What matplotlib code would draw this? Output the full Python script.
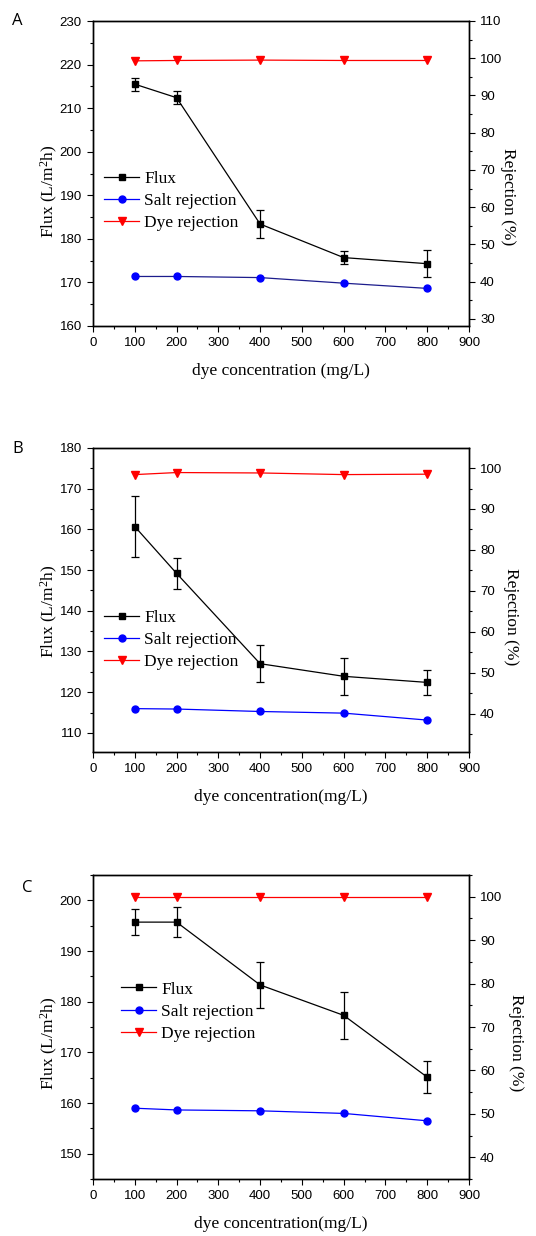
import numpy as np
import matplotlib.pyplot as plt
from matplotlib.lines import Line2D
from matplotlib.ticker import MultipleLocator

conc = [100, 200, 400, 600, 800]

# panel A
flux_a = [215.5, 212.4, 183.4, 175.7, 174.3]
flux_err_a = [1.5, 1.5, 3.2, 1.5, 3.1]
salt_a = [41.4, 41.4, 41.1, 39.6, 38.2]
dye_a = [99.3, 99.4, 99.5, 99.4, 99.4]

# panel B
flux_b = [160.7, 149.2, 127.0, 123.9, 122.4]
flux_err_b = [7.6, 3.8, 4.5, 4.6, 3.0]
salt_b = [41.2, 41.1, 40.5, 40.1, 38.4]
dye_b = [98.4, 98.9, 98.8, 98.4, 98.5]

# panel C
flux_c = [195.7, 195.7, 183.3, 177.3, 165.1]
flux_err_c = [2.5, 2.9, 4.6, 4.6, 3.1]
salt_c = [51.3, 50.9, 50.7, 50.1, 48.4]
dye_c = [99.9, 99.9, 99.9, 99.9, 99.9]

SANS = 'Liberation Sans'
SERIF = 'Liberation Serif'

plt.rcParams['mathtext.fontset'] = 'custom'
plt.rcParams['mathtext.rm'] = SERIF
plt.rcParams['mathtext.it'] = SERIF + ':italic'

W, H = 536, 1236
fig = plt.figure(figsize=(W / 100, H / 100), dpi=100)


def panel(top, bottom, letter, letter_xy, flux, err, salt, dye, ylim_l, ylim_r,
          xlabel, leg_x, leg_y, ly, rx, ry, salt_line='blue'):
    ax = fig.add_axes([93 / W, 1 - bottom / H, 376 / W, (bottom - top) / H])
    ax2 = ax.twinx()

    ax.errorbar(conc, flux, yerr=err, color='black', marker='s', ms=5,
                lw=0.9, elinewidth=0.9, capsize=3, capthick=0.9)
    ax2.plot(conc, salt, color=salt_line, marker='o', ms=5, mfc='blue',
             mec='blue', lw=0.9)
    ax2.plot(conc, dye, color='red', marker='v', ms=6, lw=0.9)

    ax.set_xlim(0, 900)
    ax.set_ylim(*ylim_l)
    ax2.set_ylim(*ylim_r)
    ax.xaxis.set_major_locator(MultipleLocator(100))
    ax.xaxis.set_minor_locator(MultipleLocator(50))
    ax.yaxis.set_major_locator(MultipleLocator(10))
    ax.yaxis.set_minor_locator(MultipleLocator(5))
    ax2.yaxis.set_major_locator(MultipleLocator(10))
    ax2.yaxis.set_minor_locator(MultipleLocator(5))

    for a in (ax, ax2):
        a.tick_params(which='major', direction='out', length=4, width=0.8,
                      labelsize=9.5, pad=4)
        a.tick_params(which='minor', direction='out', length=2.5, width=0.8)
        for lab in a.get_xticklabels() + a.get_yticklabels():
            lab.set_family(SANS)
        for s in a.spines.values():
            s.set_linewidth(1.0)

    ax.set_ylabel('Flux (L/m$^2$h)', family=SERIF, fontsize=12.5)
    ax.yaxis.set_label_coords(-0.088, ly)
    ax2.set_ylabel('Rejection (%)', family=SERIF, fontsize=12.5, rotation=270,
                   va='bottom')
    ax2.yaxis.set_label_coords(rx, ry)
    ax.set_xlabel(xlabel, family=SERIF, fontsize=12.5, labelpad=10)

    handles = [
        Line2D([], [], color='black', marker='s', ms=5, lw=0.9),
        Line2D([], [], color='blue', marker='o', ms=5, lw=0.9),
        Line2D([], [], color='red', marker='v', ms=6, lw=0.9),
    ]
    ax.legend(handles, ['Flux', 'Salt rejection', 'Dye rejection'],
              loc='upper left', bbox_to_anchor=(leg_x, leg_y), frameon=False,
              prop={'family': SERIF, 'size': 12.5}, handlelength=2.0,
              handletextpad=0.3, labelspacing=0.36, borderpad=0, borderaxespad=0)

    fig.text(letter_xy[0] / W, 1 - letter_xy[1] / H, letter, family='Open Sans',
             fontsize=12, ha='left', va='center')


panel(21, 326, 'A', (12, 21), flux_a, flux_err_a, salt_a, dye_a,
      (160, 230), (28.1, 110), 'dye concentration (mg/L)', 0.03, 0.51,
      0.443, 1.082, 0.423, salt_line='#1c1c8c')
panel(448, 752, 'B', (12, 449), flux_b, flux_err_b, salt_b, dye_b,
      (105.3, 180), (30.6, 104.9), 'dye concentration(mg/L)', 0.03, 0.469,
      0.464, 1.09, 0.444)
panel(875, 1179, 'C', (22, 888), flux_c, flux_err_c, salt_c, dye_c,
      (145, 205), (35, 105), 'dye concentration(mg/L)', 0.075, 0.65,
      0.447, 1.104, 0.447)

fig.savefig('out.png', dpi=100)
